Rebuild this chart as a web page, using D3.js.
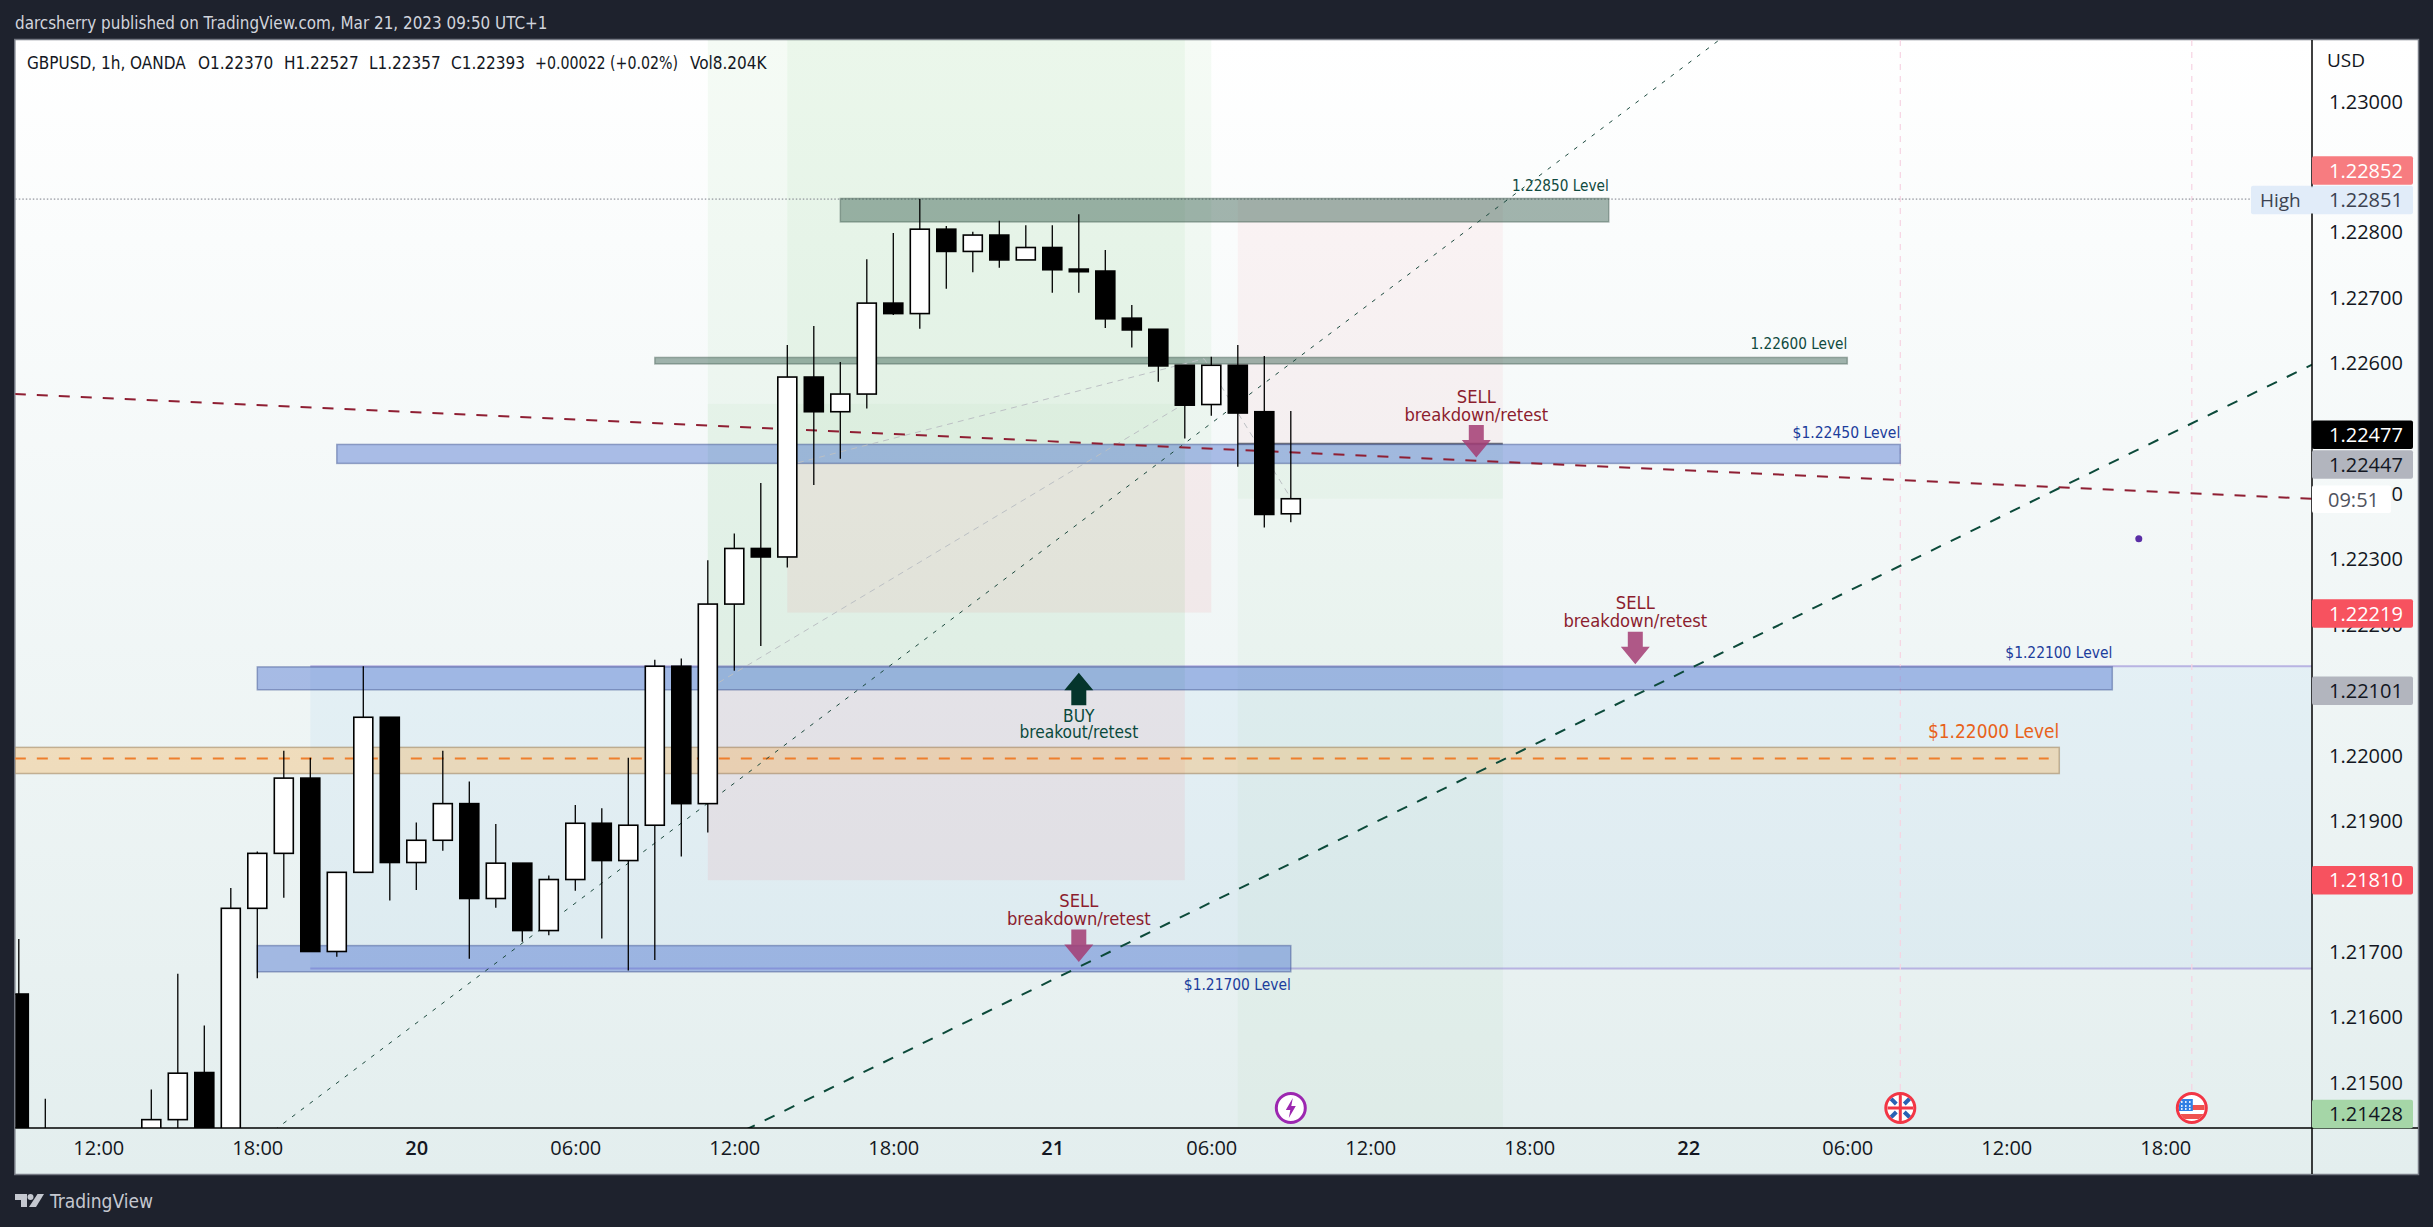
<!DOCTYPE html>
<html>
<head>
<meta charset="utf-8">
<title>GBPUSD 1h</title>
<script src="https://cdn.jsdelivr.net/npm/d3@7"></script>
<style>
  html, body { margin: 0; padding: 0; background: #1e222d; overflow: hidden; }
  svg { display: block; }
  .note { font-family: "DejaVu Sans Condensed", "DejaVu Sans", sans-serif; font-stretch: condensed; }
  .axis-text { font-family: "Open Sans", sans-serif; }
</style>
</head>
<body>
<svg id="chart" width="2433" height="1227"></svg>
<script>
// candles, hours are counted from Mar 20 00:00
var hours  = [-15, -14, -10, -9, -8, -7, -6, -5, -4, -3, -2, -1, 0, 1, 2, 3, 4, 5, 6, 7, 8, 9, 10, 11, 12, 13, 14, 15, 16, 17, 18, 19, 20, 21, 22, 23, 24, 25, 26, 27, 28, 29, 30, 31, 32, 33];
var opens  = [1.21636, 1.21380, 1.21400, 1.21444, 1.21516, 1.21390, 1.21767, 1.21851, 1.21966, 1.21701, 1.21822, 1.22059, 1.21837, 1.21871, 1.21927, 1.21782, 1.21836, 1.21733, 1.21811, 1.21897, 1.21840, 1.21894, 1.22137, 1.21927, 1.22232, 1.22317, 1.22304, 1.22579, 1.22526, 1.22553, 1.22692, 1.22676, 1.22805, 1.22771, 1.22796, 1.22758, 1.22777, 1.22744, 1.22741, 1.22669, 1.22652, 1.22597, 1.22537, 1.22597, 1.22526, 1.22370];
var highs  = [1.21720, 1.21476, 1.21490, 1.21667, 1.21588, 1.21798, 1.21854, 1.22008, 1.21997, 1.21822, 1.22137, 1.22059, 1.21898, 1.22008, 1.21961, 1.21896, 1.21836, 1.21817, 1.21925, 1.21920, 1.21997, 1.22147, 1.22149, 1.22299, 1.22340, 1.22417, 1.22628, 1.22657, 1.22602, 1.22759, 1.22799, 1.22851, 1.22810, 1.22801, 1.22818, 1.22811, 1.22811, 1.22828, 1.22773, 1.22689, 1.22652, 1.22597, 1.22610, 1.22628, 1.22611, 1.22527];
var lows   = [1.21300, 1.21350, 1.21380, 1.21420, 1.21370, 1.21380, 1.21660, 1.21783, 1.21701, 1.21693, 1.21822, 1.21779, 1.21795, 1.21855, 1.21690, 1.21768, 1.21716, 1.21726, 1.21794, 1.21721, 1.21672, 1.21688, 1.21846, 1.21883, 1.22130, 1.22168, 1.22288, 1.22414, 1.22454, 1.22531, 1.22674, 1.22653, 1.22714, 1.22739, 1.22746, 1.22758, 1.22708, 1.22708, 1.22654, 1.22624, 1.22572, 1.22485, 1.22520, 1.22442, 1.22349, 1.22357];
var closes = [1.21330, 1.21410, 1.21444, 1.21515, 1.21390, 1.21767, 1.21851, 1.21966, 1.21701, 1.21822, 1.22059, 1.21837, 1.21871, 1.21927, 1.21782, 1.21836, 1.21733, 1.21811, 1.21897, 1.21840, 1.21894, 1.22137, 1.21927, 1.22232, 1.22317, 1.22304, 1.22579, 1.22526, 1.22553, 1.22692, 1.22676, 1.22805, 1.22771, 1.22796, 1.22758, 1.22777, 1.22743, 1.22740, 1.22668, 1.22651, 1.22596, 1.22536, 1.22597, 1.22524, 1.22369, 1.22393];

// axes
var priceTicks = [1.23, 1.228, 1.227, 1.226, 1.224, 1.223, 1.222, 1.22, 1.219, 1.217, 1.216, 1.215];
var timeTicks  = [-12, -6, 0, 6, 12, 18, 24, 30, 36, 42, 48, 54, 60, 66];
var timeLabels = ["12:00", "18:00", "20", "06:00", "12:00", "18:00", "21", "06:00", "12:00", "18:00", "22", "06:00", "12:00", "18:00"];

// drawing tools: [hour from, hour to, price top, price bottom]
var PRICE_TOP = 1.231, PRICE_BOTTOM = 1.21428, HOUR_LEFT = -15.15, HOUR_RIGHT = 71.54;
var blueZone   = [-4, HOUR_RIGHT, 1.22137, 1.21675];
var greenZones = [
  [11, 29, PRICE_TOP, 1.22101],
  [14, 30, PRICE_TOP, 1.22447]
];
var greenInner = [11, 29, 1.22538, 1.22101];
var greenShort = [31, 41, 1.22477, PRICE_BOTTOM];
var greenDeep  = [31, 41, 1.22477, 1.22393];
var redZones   = [
  [14, 30, 1.22447, 1.22219],
  [11, 29, 1.22101, 1.21810]
];
var shortStop  = [31, 41, 1.22852, 1.22477];

var greyBands = [
  [16, 45, 1.22852, 1.22816],
  [9, 54, 1.22609, 1.22599]
];
var blueBands = [
  [-3, 56, 1.22476, 1.22447],
  [-6, 64, 1.22136, 1.22101],
  [-6, 33, 1.21710, 1.21670]
];
var orangeBand = [HOUR_LEFT, 62, 1.22013, 1.21973];
var orangeDash = [HOUR_LEFT, 61.6, 1.21996];
var highPrice  = 1.22851;

// lines: [hour, price, hour, price]
var greenTrend = [12.4, 1.21428, HOUR_RIGHT, 1.22598];
var thinTrend  = [-5.35, 1.21428, 49.16, 1.23094];
var redTrend   = [HOUR_LEFT, 1.22553, HOUR_RIGHT, 1.22393];
var fibBack    = [[11.41, 1.22112], [28.97, 1.22538]];
var fibPath    = [[14.4, 1.22448], [29.73, 1.22607], [32.97, 1.22396]];

// text and arrows
var sellHours = [25, 40, 46];
var sellTips  = [1.21685, 1.22456, 1.22140];
var buyHour = 25, buyTip = 1.22127;
var levelNames  = ["1.22850 Level", "1.22600 Level", "$1.22450 Level", "$1.22100 Level", "$1.22000 Level"];
var levelHours  = [45, 54, 56, 64, 62];
var levelPrices = [1.22852, 1.22609, 1.22476, 1.22136, 1.22013];
var lowLevelName = "$1.21700 Level", lowLevelHour = 33, lowLevelPrice = 1.21670;

// calendar events
var eventHours = [33, 56, 67];
var eventKinds = ["bolt", "uk", "us"];
var markHour = 65, markPrice = 1.22332;

// price tags on the right
var tagPrices = [1.22852, 1.22851, 1.22477, 1.22447, 1.22219, 1.22101, 1.21810, 1.21428];
var tagFills  = ["#f77c80", "#e1ecf9", "#000000", "#b2b5be", "#f7525f", "#b2b5be", "#f7525f", "#a5d6a7"];
var tagInks   = ["#ffffff", "#3c4250", "#ffffff", "#131722", "#ffffff", "#131722", "#ffffff", "#131722"];
var tagShift  = [-28, 1, -9, 1, 1, 1, 0, -16];

var svg = d3.select("#chart");
var plot = {left: 15.3, top: 40, right: 2312, bottom: 1128, frameRight: 2418, frameBottom: 1174};

var x = d3.scaleLinear().domain([0, 24]).range([416.3, 1052.3]);
var y = d3.scaleLinear().domain([1.23, 1.215]).range([101.6, 1083]);

var defs = svg.append("defs");
var grad = defs.append("linearGradient").attr("id", "paneFill").attr("x1", 0).attr("y1", 0).attr("x2", 0).attr("y2", 1);
grad.append("stop").attr("offset", 0).attr("stop-color", "#ffffff");
grad.append("stop").attr("offset", 1).attr("stop-color", "#e3eeee");

defs.append("clipPath").attr("id", "plotClip").append("rect")
  .attr("x", plot.left).attr("y", plot.top)
  .attr("width", plot.right - plot.left).attr("height", plot.bottom - plot.top);

svg.append("rect")
  .attr("x", plot.left - 0.5).attr("y", plot.top - 0.5)
  .attr("width", plot.frameRight - plot.left + 1).attr("height", plot.frameBottom - plot.top + 1)
  .attr("fill", "url(#paneFill)")
  .attr("stroke", "#767a84")
  .attr("stroke-width", 1.5);

var pane = svg.append("g").attr("clip-path", "url(#plotClip)");

function zone(parent, z, fill, stroke) {
  var r = parent.append("rect")
    .attr("x", x(z[0])).attr("y", y(z[2]))
    .attr("width", x(z[1]) - x(z[0])).attr("height", y(z[3]) - y(z[2]))
    .attr("fill", fill);
  if (stroke) {
    r.attr("stroke", stroke).attr("stroke-width", 1.5);
  }
  return r;
}

function segment(parent, s, color, width, dash) {
  return parent.append("line")
    .attr("x1", x(s[0])).attr("y1", y(s[1]))
    .attr("x2", x(s[2])).attr("y2", y(s[3]))
    .attr("stroke", color).attr("stroke-width", width)
    .attr("stroke-dasharray", dash);
}

// light position tools first
zone(pane, blueZone, "rgba(33,150,243,0.055)");
pane.append("line").attr("x1", x(blueZone[0])).attr("x2", x(blueZone[1])).attr("y1", y(blueZone[2])).attr("y2", y(blueZone[2]))
  .attr("stroke", "#b8b3e2").attr("stroke-width", 2);
pane.append("line").attr("x1", x(blueZone[0])).attr("x2", x(blueZone[1])).attr("y1", y(blueZone[3])).attr("y2", y(blueZone[3]))
  .attr("stroke", "#b8b3e2").attr("stroke-width", 2);

greenZones.forEach(function(z) { zone(pane, z, "rgba(76,175,80,0.055)"); });
zone(pane, greenInner, "rgba(76,175,80,0.04)");
zone(pane, greenShort, "rgba(76,175,80,0.04)");
zone(pane, greenDeep, "rgba(76,175,80,0.04)");
redZones.forEach(function(z) { zone(pane, z, "rgba(242,54,69,0.07)"); });
zone(pane, shortStop, "rgba(242,54,69,0.05)");
pane.append("line").attr("x1", x(shortStop[0])).attr("x2", x(shortStop[1])).attr("y1", y(shortStop[3])).attr("y2", y(shortStop[3]))
  .attr("stroke", "#6f7176").attr("stroke-width", 2);

// event lines
eventHours.slice(1).forEach(function(h) {
  pane.append("line").attr("x1", x(h)).attr("x2", x(h)).attr("y1", plot.top).attr("y2", 1092)
    .attr("stroke", "#f7d3e2").attr("stroke-width", 1.2).attr("stroke-dasharray", "6 6");
});

// high line
pane.append("line").attr("x1", plot.left).attr("x2", plot.right).attr("y1", y(highPrice)).attr("y2", y(highPrice))
  .attr("stroke", "#787b86").attr("stroke-width", 1).attr("stroke-dasharray", "1.5 2");

// level bands
zone(pane, orangeBand, "rgba(245,165,60,0.3)", "rgba(150,120,80,0.5)");
greyBands.forEach(function(z) { zone(pane, z, "rgba(50,90,75,0.45)", "rgba(60,85,75,0.4)"); });
blueBands.forEach(function(z) { zone(pane, z, "rgba(65,105,205,0.42)", "rgba(70,90,150,0.5)"); });

pane.append("line")
  .attr("x1", x(orangeDash[0])).attr("x2", x(orangeDash[1]))
  .attr("y1", y(orangeDash[2])).attr("y2", y(orangeDash[2]))
  .attr("stroke", "#ee7f2d").attr("stroke-width", 2).attr("stroke-dasharray", "11 11");

// trend lines
var pathLine = d3.line().x(function(d) { return x(d[0]); }).y(function(d) { return y(d[1]); });
[fibBack, fibPath].forEach(function(p) {
  pane.append("path").attr("d", pathLine(p)).attr("fill", "none")
    .attr("stroke", "#bcc0c4").attr("stroke-width", 1).attr("stroke-dasharray", "6 5");
});
segment(pane, thinTrend, "#1c4a3e", 1, "4 7");
segment(pane, redTrend, "#8f1f33", 2, "11 11");
segment(pane, greenTrend, "#0c4a3a", 2, "11 11");

// arrows
function downArrow(parent, hour, tip) {
  var cx = x(hour), ty = y(tip);
  parent.append("path")
    .attr("d", "M" + cx + "," + ty + "L" + (cx + 14.5) + "," + (ty - 17.5) + "H" + (cx + 7.5) + "V" + (ty - 32.5)
      + "H" + (cx - 7.5) + "V" + (ty - 17.5) + "H" + (cx - 14.5) + "Z")
    .attr("fill", "#a33c73").attr("fill-opacity", 0.85);
}
sellHours.forEach(function(h, i) { downArrow(pane, h, sellTips[i]); });
(function() {
  var cx = x(buyHour), ty = y(buyTip);
  pane.append("path")
    .attr("d", "M" + cx + "," + ty + "L" + (cx + 14.5) + "," + (ty + 17.5) + "H" + (cx + 7.5) + "V" + (ty + 32.5)
      + "H" + (cx - 7.5) + "V" + (ty + 17.5) + "H" + (cx - 14.5) + "Z")
    .attr("fill", "#05352c");
})();

// candles on top of the drawings
var candles = hours.map(function(h, i) {
  return {hour: h, open: opens[i], high: highs[i], low: lows[i], close: closes[i]};
});
var bodyWidth = 19;
var candle = pane.append("g").selectAll("g").data(candles).enter().append("g");
candle.append("line")
  .attr("x1", function(d) { return x(d.hour); }).attr("x2", function(d) { return x(d.hour); })
  .attr("y1", function(d) { return y(d.high); }).attr("y2", function(d) { return y(d.low); })
  .attr("stroke", "#000").attr("stroke-width", 1.3);
candle.append("rect")
  .attr("x", function(d) { return x(d.hour) - bodyWidth / 2; })
  .attr("width", bodyWidth)
  .attr("y", function(d) { return y(Math.max(d.open, d.close)); })
  .attr("height", function(d) { return Math.abs(y(d.open) - y(d.close)); })
  .attr("fill", function(d) { return d.close >= d.open ? "#fff" : "#000"; })
  .attr("stroke", "#000").attr("stroke-width", 1.6);

// notes
function note(parent, px, py, str, size, color, anchor) {
  return parent.append("text")
    .attr("class", "note")
    .attr("x", px).attr("y", py)
    .attr("dy", "0.36em")
    .attr("text-anchor", anchor)
    .attr("font-size", size)
    .attr("fill", color)
    .text(str);
}
sellHours.forEach(function(h, i) {
  note(pane, x(h), y(sellTips[i]) - 61.5, "SELL", 18.2, "#8c1d2e", "middle");
  note(pane, x(h), y(sellTips[i]) - 43.5, "breakdown/retest", 18.2, "#8c1d2e", "middle");
});
note(pane, x(buyHour), y(buyTip) + 43, "BUY", 17.2, "#0a4a3c", "middle");
note(pane, x(buyHour), y(buyTip) + 59, "breakout/retest", 17.2, "#0a4a3c", "middle");

var levelColors = ["#104a40", "#104a40", "#1c3d9c", "#1c3d9c", "#e8621a"];
var levelGaps = [13, 13.6, 12.5, 14, 16];
var levelSizes = [15.2, 15.2, 15.5, 15.4, 18.9];
levelNames.forEach(function(name, i) {
  note(pane, x(levelHours[i]), y(levelPrices[i]) - levelGaps[i], name, levelSizes[i], levelColors[i], "end");
});
note(pane, x(lowLevelHour), y(lowLevelPrice) + 12.5, lowLevelName, 15.4, "#1c3d9c", "end");

// purple mark
pane.append("circle").attr("cx", x(markHour)).attr("cy", y(markPrice)).attr("r", 3.5).attr("fill", "#5a2ea6");

// event icons
function drawIcon(kind, hour) {
  var g = pane.append("g").attr("transform", "translate(" + x(hour) + ",1108)");
  var id = "clip" + kind;
  defs.append("clipPath").attr("id", id).append("circle").attr("r", 13);
  var color = kind === "bolt" ? "#9c27b0" : "#f23645";
  g.append("circle").attr("r", 14.5).attr("fill", "#fff").attr("stroke", color).attr("stroke-width", 3);
  var inner = g.append("g").attr("clip-path", "url(#" + id + ")");
  if (kind === "bolt") {
    inner.append("path").attr("d", "M2,-10L-5,2H-0.5L-2,10L5,-2H0.5Z").attr("fill", color);
  } else if (kind === "uk") {
    [[-13, -13, -4, -4], [13, -13, 4, -4], [-13, 13, -4, 4], [13, 13, 4, 4]].forEach(function(p) {
      inner.append("line").attr("x1", p[0]).attr("y1", p[1]).attr("x2", p[2]).attr("y2", p[3])
        .attr("stroke", "#2a62b4").attr("stroke-width", 4);
    });
    inner.append("rect").attr("x", -13).attr("y", -1.5).attr("width", 26).attr("height", 3).attr("fill", "#f23645");
    inner.append("rect").attr("x", -1.5).attr("y", -13).attr("width", 3).attr("height", 26).attr("fill", "#f23645");
  } else {
    inner.append("rect").attr("x", 0).attr("y", -3).attr("width", 13).attr("height", 5).attr("fill", "#ef5350");
    inner.append("rect").attr("x", -13).attr("y", 6).attr("width", 26).attr("height", 5).attr("fill", "#ef5350");
    inner.append("rect").attr("x", -13).attr("y", -9).attr("width", 14).attr("height", 12).attr("fill", "#2f80e4");
    [-10, -6, -2].forEach(function(dx) {
      [-6, -2, 1].forEach(function(dy) {
        inner.append("circle").attr("cx", dx).attr("cy", dy).attr("r", 0.9).attr("fill", "#fff");
      });
    });
  }
}
eventKinds.forEach(function(k, i) { drawIcon(k, eventHours[i]); });

// price axis
var priceAxis = d3.axisRight(y).tickValues(priceTicks).tickSize(0).tickPadding(17)
  .tickFormat(d3.format(".5f"));
var priceG = svg.append("g").attr("transform", "translate(" + plot.right + ",0)").call(priceAxis);
priceG.select(".domain").remove();
priceG.selectAll("text").attr("class", "axis-text").attr("font-size", 20).attr("fill", "#131722");

// time axis
var timeAxis = d3.axisBottom(x).tickValues(timeTicks).tickSize(0).tickPadding(13)
  .tickFormat(function(d, i) { return timeLabels[i]; });
var timeG = svg.append("g").attr("transform", "translate(0," + plot.bottom + ")").call(timeAxis);
timeG.select(".domain").remove();
timeG.selectAll("text").attr("class", "axis-text").attr("font-size", 20).attr("fill", "#131722")
  .attr("font-weight", function(d) { return d % 24 === 0 ? 600 : 400; });

svg.append("line").attr("x1", plot.right).attr("x2", plot.right).attr("y1", plot.top).attr("y2", plot.frameBottom)
  .attr("stroke", "#000").attr("stroke-width", 1.5);
svg.append("line").attr("x1", plot.left).attr("x2", plot.frameRight).attr("y1", plot.bottom).attr("y2", plot.bottom)
  .attr("stroke", "#000").attr("stroke-width", 1.5);

svg.append("text").attr("class", "axis-text").attr("x", 2327).attr("y", 60.5).attr("dy", "0.36em")
  .attr("font-size", 19).attr("fill", "#131722").text("USD");

// price tags
var tagHeight = 28.5;
tagPrices.forEach(function(p, i) {
  var cy = y(p) + tagShift[i];
  svg.append("rect").attr("x", plot.right).attr("y", cy - tagHeight / 2)
    .attr("width", 101).attr("height", tagHeight).attr("rx", 2)
    .attr("fill", tagFills[i]);
  svg.append("text").attr("class", "axis-text").attr("x", 2329).attr("y", cy).attr("dy", "0.36em")
    .attr("font-size", 20).attr("fill", tagInks[i])
    .text(d3.format(".5f")(p));
});
// high label next to its tag
var highY = y(tagPrices[1]) + tagShift[1];
svg.append("rect").attr("x", 2251).attr("y", highY - tagHeight / 2)
  .attr("width", 61).attr("height", tagHeight).attr("rx", 2).attr("fill", "#e1ecf9");
svg.append("text").attr("class", "axis-text").attr("x", 2260).attr("y", highY).attr("dy", "0.36em")
  .attr("font-size", 19).attr("fill", "#3c4250").text("High");
// countdown under the last price
svg.append("rect").attr("x", plot.right).attr("y", 485.6)
  .attr("width", 79).attr("height", 27.5).attr("rx", 2).attr("fill", "#ffffff");
svg.append("text").attr("class", "axis-text").attr("x", 2328).attr("y", 499.4).attr("dy", "0.36em")
  .attr("font-size", 20).attr("fill", "#50535e").text("09:51");

// legend and page furniture
note(svg, 15, 23, "darcsherry published on TradingView.com, Mar 21, 2023 09:50 UTC+1", 16.9, "#d1d4dc", "start");
var legendBits = ["GBPUSD, 1h, OANDA", "O1.22370", "H1.22527", "L1.22357", "C1.22393", "+0.00022 (+0.02%)", "Vol8.204K"];
var legendStarts = [27, 198, 284, 369, 451, 535, 690];
legendBits.forEach(function(b, i) {
  var t = note(svg, legendStarts[i], 63, b, 17, "#131722", "start");
  if (b.charAt(0) === "+") {
    t.attr("textLength", 143).attr("lengthAdjust", "spacingAndGlyphs");
  }
});

svg.append("path").attr("d", "M15,1194H27V1207H21V1200H15Z").attr("fill", "#c5c8d0");
svg.append("circle").attr("cx", 30.5).attr("cy", 1197).attr("r", 3).attr("fill", "#c5c8d0");
svg.append("path").attr("d", "M37.5,1194H44L36,1207H29Z").attr("fill", "#c5c8d0");
note(svg, 50, 1201, "TradingView", 19, "#c5c8d0", "start");
</script>
</body>
</html>
